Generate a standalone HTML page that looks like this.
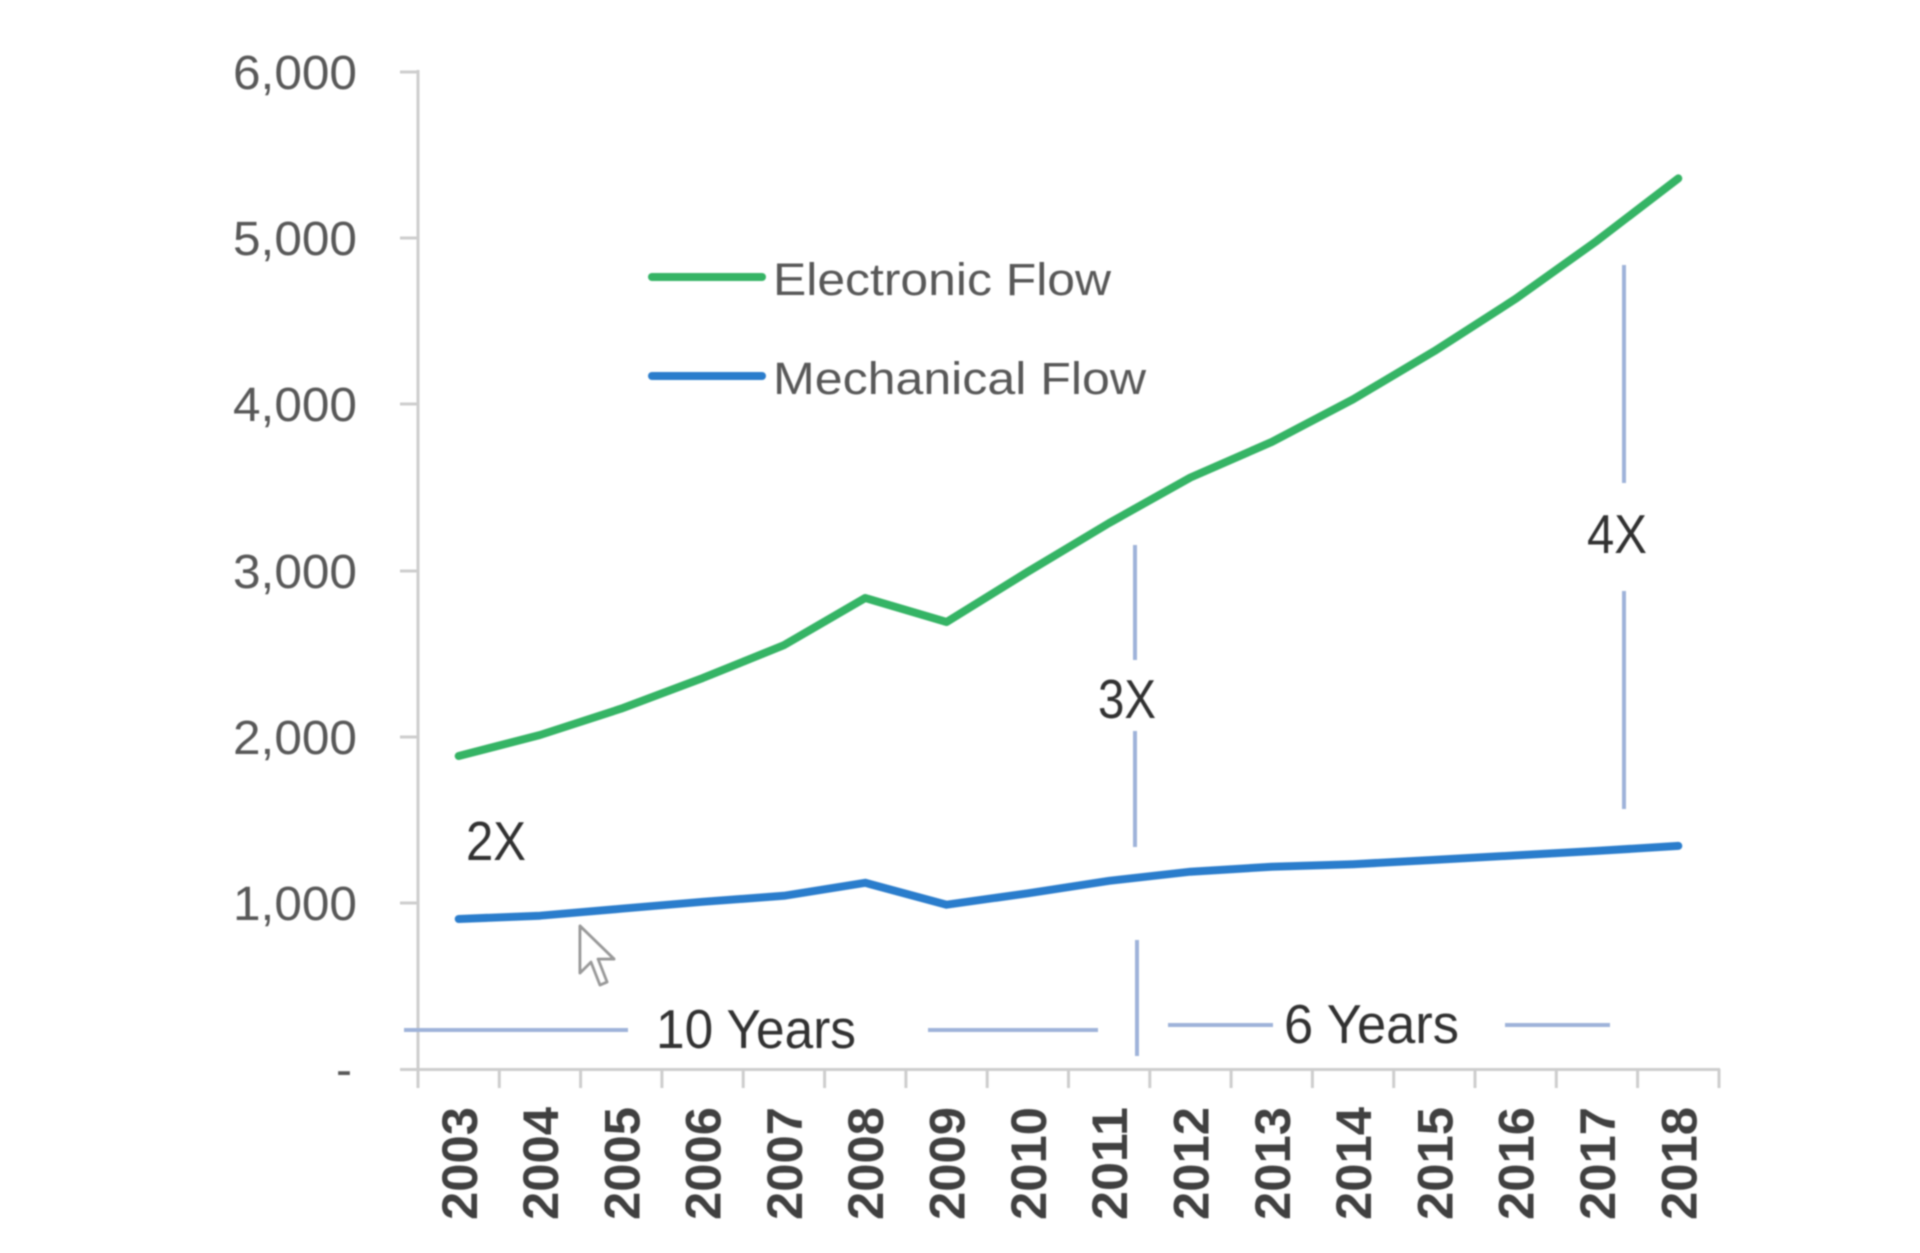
<!DOCTYPE html>
<html>
<head>
<meta charset="utf-8">
<style>
  html, body { margin: 0; padding: 0; background: #ffffff; }
  body { width: 1920px; height: 1253px; overflow: hidden; }
  svg { display: block; }
  text { font-family: "Liberation Sans", "DejaVu Sans", sans-serif; }
</style>
</head>
<body>
<svg width="1920" height="1253" viewBox="0 0 1920 1253" xmlns="http://www.w3.org/2000/svg">
  <defs>
    <filter id="soft" x="-5%" y="-5%" width="110%" height="110%">
      <feGaussianBlur stdDeviation="0.8"/>
    </filter>
  </defs>
  <rect x="0" y="0" width="1920" height="1253" fill="#ffffff"/>
  <g filter="url(#soft)">

  <!-- Axes -->
  <g stroke="#cdcdcd" stroke-width="3" fill="none">
    <line x1="418" y1="70" x2="418" y2="1070"/>
    <line x1="400" y1="1069.5" x2="1720" y2="1069.5"/>
    <line x1="400" y1="72" x2="418" y2="72"/>
    <line x1="400" y1="238" x2="418" y2="238"/>
    <line x1="400" y1="404" x2="418" y2="404"/>
    <line x1="400" y1="571" x2="418" y2="571"/>
    <line x1="400" y1="737" x2="418" y2="737"/>
    <line x1="400" y1="903" x2="418" y2="903"/>
    <line x1="418" y1="1069" x2="418" y2="1088"/>
    <line x1="499.3" y1="1069" x2="499.3" y2="1088"/>
    <line x1="580.6" y1="1069" x2="580.6" y2="1088"/>
    <line x1="661.9" y1="1069" x2="661.9" y2="1088"/>
    <line x1="743.2" y1="1069" x2="743.2" y2="1088"/>
    <line x1="824.6" y1="1069" x2="824.6" y2="1088"/>
    <line x1="905.9" y1="1069" x2="905.9" y2="1088"/>
    <line x1="987.2" y1="1069" x2="987.2" y2="1088"/>
    <line x1="1068.5" y1="1069" x2="1068.5" y2="1088"/>
    <line x1="1149.8" y1="1069" x2="1149.8" y2="1088"/>
    <line x1="1231.1" y1="1069" x2="1231.1" y2="1088"/>
    <line x1="1312.4" y1="1069" x2="1312.4" y2="1088"/>
    <line x1="1393.7" y1="1069" x2="1393.7" y2="1088"/>
    <line x1="1475.0" y1="1069" x2="1475.0" y2="1088"/>
    <line x1="1556.3" y1="1069" x2="1556.3" y2="1088"/>
    <line x1="1637.6" y1="1069" x2="1637.6" y2="1088"/>
    <line x1="1719" y1="1069" x2="1719" y2="1088"/>
  </g>

  <!-- Y labels -->
  <g fill="#595959" font-size="48" text-anchor="end">
    <text x="357" y="89" textLength="124" lengthAdjust="spacingAndGlyphs">6,000</text>
    <text x="357" y="255" textLength="124" lengthAdjust="spacingAndGlyphs">5,000</text>
    <text x="357" y="421" textLength="124" lengthAdjust="spacingAndGlyphs">4,000</text>
    <text x="357" y="588" textLength="124" lengthAdjust="spacingAndGlyphs">3,000</text>
    <text x="357" y="754" textLength="124" lengthAdjust="spacingAndGlyphs">2,000</text>
    <text x="357" y="920" textLength="124" lengthAdjust="spacingAndGlyphs">1,000</text>
    <text x="352" y="1086">-</text>
  </g>

  <!-- X labels (rotated) -->
  <g fill="#404040" font-size="50" font-weight="bold" text-anchor="end">
    <text transform="translate(477,1107) rotate(-90)" textLength="113" lengthAdjust="spacingAndGlyphs">2003</text>
    <text transform="translate(558,1107) rotate(-90)" textLength="113" lengthAdjust="spacingAndGlyphs">2004</text>
    <text transform="translate(639.3,1107) rotate(-90)" textLength="113" lengthAdjust="spacingAndGlyphs">2005</text>
    <text transform="translate(720.6,1107) rotate(-90)" textLength="113" lengthAdjust="spacingAndGlyphs">2006</text>
    <text transform="translate(801.9,1107) rotate(-90)" textLength="113" lengthAdjust="spacingAndGlyphs">2007</text>
    <text transform="translate(883.2,1107) rotate(-90)" textLength="113" lengthAdjust="spacingAndGlyphs">2008</text>
    <text transform="translate(964.6,1107) rotate(-90)" textLength="113" lengthAdjust="spacingAndGlyphs">2009</text>
    <text transform="translate(1045.9,1107) rotate(-90)" textLength="113" lengthAdjust="spacingAndGlyphs">2010</text>
    <text transform="translate(1127.2,1107) rotate(-90)" textLength="113" lengthAdjust="spacingAndGlyphs">2011</text>
    <text transform="translate(1208.5,1107) rotate(-90)" textLength="113" lengthAdjust="spacingAndGlyphs">2012</text>
    <text transform="translate(1289.8,1107) rotate(-90)" textLength="113" lengthAdjust="spacingAndGlyphs">2013</text>
    <text transform="translate(1371.1,1107) rotate(-90)" textLength="113" lengthAdjust="spacingAndGlyphs">2014</text>
    <text transform="translate(1452.4,1107) rotate(-90)" textLength="113" lengthAdjust="spacingAndGlyphs">2015</text>
    <text transform="translate(1533.7,1107) rotate(-90)" textLength="113" lengthAdjust="spacingAndGlyphs">2016</text>
    <text transform="translate(1615.0,1107) rotate(-90)" textLength="113" lengthAdjust="spacingAndGlyphs">2017</text>
    <text transform="translate(1696.3,1107) rotate(-90)" textLength="113" lengthAdjust="spacingAndGlyphs">2018</text>
  </g>

  <!-- Annotation lines -->
  <g stroke="#9fb3d9" stroke-width="4" fill="none">
    <line x1="404" y1="1030" x2="628" y2="1030"/>
    <line x1="928" y1="1030" x2="1098" y2="1030"/>
    <line x1="1168" y1="1025" x2="1273" y2="1025"/>
    <line x1="1505" y1="1025" x2="1610" y2="1025"/>
    <line x1="1135" y1="545" x2="1135" y2="660"/>
    <line x1="1135" y1="731" x2="1135" y2="847"/>
    <line x1="1137" y1="940" x2="1137" y2="1056"/>
    <line x1="1624" y1="265" x2="1624" y2="483"/>
    <line x1="1624" y1="591" x2="1624" y2="809"/>
  </g>

  <!-- Series -->
  <polyline fill="none" stroke="#34b465" stroke-width="8" stroke-linejoin="round" stroke-linecap="round"
    points="458.7,756.0 540.0,735.0 621.3,708.6 702.6,678.1 783.9,645.2 865.2,598.0 946.6,622.0 1027.9,571.7 1109.2,523.0 1190.5,477.5 1271.8,441.9 1353.1,399.3 1434.4,351.1 1515.7,298.8 1597.0,240.7 1678.3,178.4"/>
  <polyline fill="none" stroke="#2b7dcc" stroke-width="8" stroke-linejoin="round" stroke-linecap="round"
    points="458.7,919.0 540.0,915.7 621.3,908.7 702.6,901.8 783.9,895.8 865.2,882.8 946.6,904.7 1027.9,893.3 1109.2,880.8 1190.5,871.7 1271.8,866.8 1353.1,864.2 1434.4,859.9 1515.7,855.4 1597.0,850.9 1678.3,845.9"/>

  <!-- Legend -->
  <line x1="652" y1="277" x2="762" y2="277" stroke="#34b465" stroke-width="8" stroke-linecap="round"/>
  <line x1="652" y1="376" x2="762" y2="376" stroke="#2b7dcc" stroke-width="8" stroke-linecap="round"/>
  <g fill="#595959" font-size="45">
    <text x="773" y="295" textLength="338" lengthAdjust="spacingAndGlyphs">Electronic Flow</text>
    <text x="773" y="394" textLength="373" lengthAdjust="spacingAndGlyphs">Mechanical Flow</text>
  </g>

  <!-- Annotation text -->
  <g fill="#303030" font-size="55">
    <text x="466" y="860" textLength="60" lengthAdjust="spacingAndGlyphs">2X</text>
    <text x="1098" y="718" textLength="58" lengthAdjust="spacingAndGlyphs">3X</text>
    <text x="1587" y="553" textLength="60" lengthAdjust="spacingAndGlyphs">4X</text>
    <text x="656" y="1048" textLength="200" lengthAdjust="spacingAndGlyphs">10 Years</text>
    <text x="1284" y="1043" textLength="175" lengthAdjust="spacingAndGlyphs">6 Years</text>
  </g>

  <!-- Mouse cursor -->
  <path d="M580,926 L580,973 L591,962 L600,985 L607,982 L598,959 L614,959 Z"
        fill="#ffffff" stroke="#9a9a9a" stroke-width="3" stroke-linejoin="round"/>
  </g>
</svg>
</body>
</html>
